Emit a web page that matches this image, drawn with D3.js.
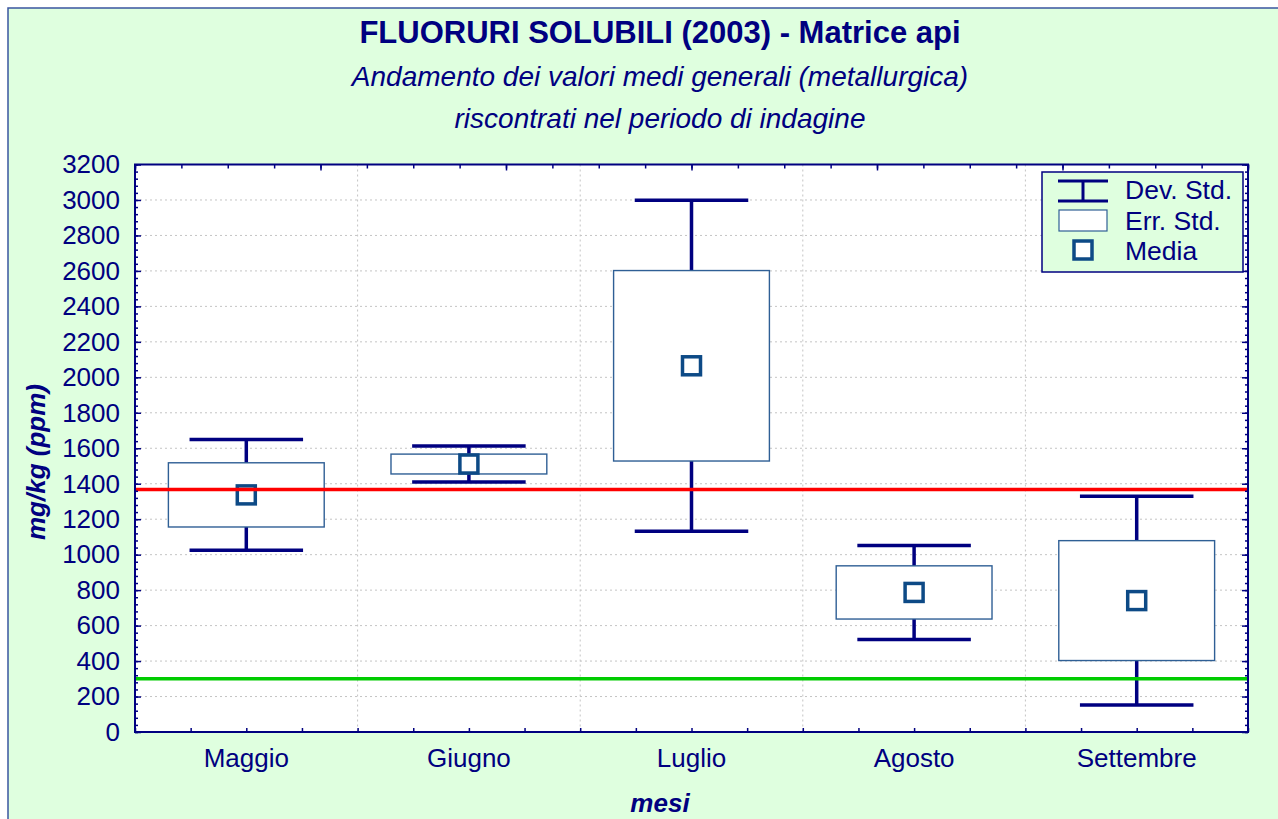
<!DOCTYPE html>
<meta charset="utf-8">
<style>
body { margin: 0; background: #fff; }
svg text { font-family: "Liberation Sans", Arial, sans-serif; fill: #000080; }
</style>
<body>
<div id="chart"></div>
<script src="https://d3js.org/d3.v7.min.js"></script>
<script>

// data (mg/kg)
var mesi = ["Maggio", "Giugno", "Luglio", "Agosto", "Settembre"];
var media = [1337, 1511, 2065, 787, 741];
var errStd = [181, 56, 537, 150, 338];
var devStd = [312, 102, 933, 265, 589];
var yTicks = [0, 200, 400, 600, 800, 1000, 1200, 1400, 1600, 1800, 2000, 2200, 2400, 2600, 2800, 3000, 3200];
var lineaRossa = 1368;
var lineaVerde = 300;

var W = 1278, H = 819;
var plot = {left: 135, right: 1248, top: 164.5, bottom: 732};
var navy = "#000080";

var svg = d3.select("#chart").append("svg")
  .attr("width", W)
  .attr("height", H);

// background + outer frame
svg.append("rect")
  .attr("x", 8).attr("y", 8)
  .attr("width", W + 20).attr("height", H + 20)
  .style("fill", "#dfffdf")
  .style("stroke", "#3a55a0")
  .style("stroke-width", 1.5);

var x = d3.scaleBand().domain(mesi).range([plot.left, plot.right]).padding(0);
var y = d3.scaleLinear().domain([0, 3200]).range([plot.bottom, plot.top]);

svg.append("rect")
  .attr("x", plot.left).attr("y", plot.top)
  .attr("width", plot.right - plot.left).attr("height", plot.bottom - plot.top)
  .style("fill", "#fff");

// grid
svg.append("g").selectAll("line").data(yTicks.slice(1, -1)).enter().append("line")
  .attr("x1", plot.left).attr("x2", plot.right)
  .attr("y1", function(d){ return y(d); }).attr("y2", function(d){ return y(d); })
  .style("stroke", "#c4c4c4").style("stroke-dasharray", "2,3");

svg.append("g").selectAll("line").data(mesi.slice(1)).enter().append("line")
  .attr("x1", function(d){ return x(d); }).attr("x2", function(d){ return x(d); })
  .attr("y1", plot.top).attr("y2", plot.bottom)
  .style("stroke", "#c4c4c4").style("stroke-dasharray", "2,3");

// boxes
var bw = x.bandwidth();
var g = svg.append("g").selectAll("g").data(mesi).enter().append("g")
  .attr("transform", function(d){ return "translate(" + (x(d) + bw / 2) + ",0)"; });

g.append("line")
  .attr("x1", 0).attr("x2", 0)
  .attr("y1", function(d, i){ return y(media[i] + devStd[i]); })
  .attr("y2", function(d, i){ return y(media[i] - devStd[i]); })
  .style("stroke", navy).style("stroke-width", 3.5);

[1, -1].forEach(function(s){
  g.append("line")
    .attr("x1", -bw * 0.255).attr("x2", bw * 0.255)
    .attr("y1", function(d, i){ return y(media[i] + s * devStd[i]); })
    .attr("y2", function(d, i){ return y(media[i] + s * devStd[i]); })
    .style("stroke", navy).style("stroke-width", 3.5);
});

g.append("rect")
  .attr("x", -bw * 0.35).attr("width", bw * 0.7)
  .attr("y", function(d, i){ return y(media[i] + errStd[i]); })
  .attr("height", function(d, i){ return y(media[i] - errStd[i]) - y(media[i] + errStd[i]); })
  .style("fill", "#fff").style("stroke", "#2f5f95").style("stroke-width", 1.4);

g.append("rect")
  .attr("x", -9).attr("width", 18).attr("height", 18)
  .attr("y", function(d, i){ return y(media[i]) - 9; })
  .style("fill", "#fff").style("stroke", "#0d4a86").style("stroke-width", 3.5);

// reference lines
svg.append("line")
  .attr("x1", plot.left).attr("x2", plot.right)
  .attr("y1", y(lineaRossa)).attr("y2", y(lineaRossa))
  .style("stroke", "#ff0000").style("stroke-width", 3.5);
svg.append("line")
  .attr("x1", plot.left).attr("x2", plot.right)
  .attr("y1", y(lineaVerde)).attr("y2", y(lineaVerde))
  .style("stroke", "#00cc00").style("stroke-width", 3.5);

// axes
function styleAxis(sel){
  sel.select(".domain").remove();
  sel.selectAll("line").style("stroke", navy).style("stroke-width", 1.5);
  sel.selectAll("text").style("font-size", "26px").style("fill", navy);
}

var minor = d3.range(0, 3201, 40);
svg.append("g").attr("transform", "translate(" + plot.left + ",0)")
  .call(d3.axisLeft(y).tickValues(minor).tickSize(-3).tickFormat(""))
  .call(styleAxis);
svg.append("g").attr("transform", "translate(" + plot.left + ",0)")
  .call(d3.axisLeft(y).tickValues(yTicks).tickSize(-6).tickPadding(15).tickFormat(d3.format("d")))
  .call(styleAxis);
svg.append("g").attr("transform", "translate(" + plot.right + ",0)")
  .call(d3.axisRight(y).tickValues(minor).tickSize(-3).tickFormat(""))
  .call(styleAxis);
svg.append("g").attr("transform", "translate(" + plot.right + ",0)")
  .call(d3.axisRight(y).tickValues(yTicks).tickSize(-6).tickFormat(""))
  .call(styleAxis);

// bottom: quarter-band ticks + month labels
var xq = d3.scaleLinear().domain([0, 20]).range([plot.left, plot.right]);
svg.append("g").attr("transform", "translate(0," + plot.bottom + ")")
  .call(d3.axisBottom(xq).ticks(20).tickSize(-4).tickFormat(""))
  .call(styleAxis);
svg.append("g").attr("transform", "translate(0," + plot.bottom + ")")
  .call(d3.axisBottom(x).tickSize(0).tickPadding(17))
  .call(styleAxis);

// top ticks
var xt = d3.scaleLinear().domain([0, 24]).range([plot.left, plot.right]);
svg.append("g").attr("transform", "translate(0," + plot.top + ")")
  .call(d3.axisTop(xt).ticks(24).tickSize(-4).tickFormat(""))
  .call(styleAxis);
svg.append("g").attr("transform", "translate(0," + plot.top + ")")
  .call(d3.axisTop(xt).tickValues(d3.range(0, 25, 4)).tickSize(-6).tickFormat(""))
  .call(styleAxis);

// frame
svg.append("rect")
  .attr("x", plot.left).attr("y", plot.top)
  .attr("width", plot.right - plot.left).attr("height", plot.bottom - plot.top)
  .style("fill", "none").style("stroke", navy).style("stroke-width", 2);

// titles
var cx = 660;
svg.append("text").attr("x", cx).attr("y", 43).attr("text-anchor", "middle")
  .style("font-size", "31px").style("font-weight", "bold")
  .text("FLUORURI SOLUBILI (2003) - Matrice api");
svg.append("text").attr("x", cx).attr("y", 86).attr("text-anchor", "middle")
  .style("font-size", "28px").style("font-style", "italic")
  .text("Andamento dei valori medi generali (metallurgica)");
svg.append("text").attr("x", cx).attr("y", 128).attr("text-anchor", "middle")
  .style("font-size", "28px").style("font-style", "italic")
  .text("riscontrati nel periodo di indagine");

svg.append("text").attr("x", cx).attr("y", 812).attr("text-anchor", "middle")
  .style("font-size", "26px").style("font-weight", "bold").style("font-style", "italic")
  .text("mesi");
svg.append("text").attr("transform", "translate(45,462) rotate(-90)").attr("text-anchor", "middle")
  .style("font-size", "26px").style("font-weight", "bold").style("font-style", "italic")
  .text("mg/kg (ppm)");

// legend
var leg = svg.append("g").attr("transform", "translate(1042,172)");
leg.append("rect").attr("width", 201).attr("height", 100)
  .style("fill", "#dfffdf").style("stroke", navy).style("stroke-width", 1.5);
var sx = 41;
leg.append("line").attr("x1", sx - 25).attr("x2", sx + 25).attr("y1", 9).attr("y2", 9)
  .style("stroke", navy).style("stroke-width", 3);
leg.append("line").attr("x1", sx - 25).attr("x2", sx + 25).attr("y1", 29).attr("y2", 29)
  .style("stroke", navy).style("stroke-width", 3);
leg.append("line").attr("x1", sx).attr("x2", sx).attr("y1", 9).attr("y2", 29)
  .style("stroke", navy).style("stroke-width", 3);
leg.append("rect").attr("x", sx - 24).attr("y", 38).attr("width", 48).attr("height", 21)
  .style("fill", "#fff").style("stroke", "#2f5f95").style("stroke-width", 1.2);
leg.append("rect").attr("x", sx - 9).attr("y", 69).attr("width", 18).attr("height", 18)
  .style("fill", "#fff").style("stroke", "#0d4a86").style("stroke-width", 3.5);
var legTxt = ["Dev. Std.", "Err. Std.", "Media"];
leg.selectAll("text.l").data(legTxt).enter().append("text")
  .attr("x", 83).attr("y", function(d, i){ return 27 + i * 30.5; })
  .style("font-size", "26.5px")
  .text(function(d){ return d; });

</script>
</body>
